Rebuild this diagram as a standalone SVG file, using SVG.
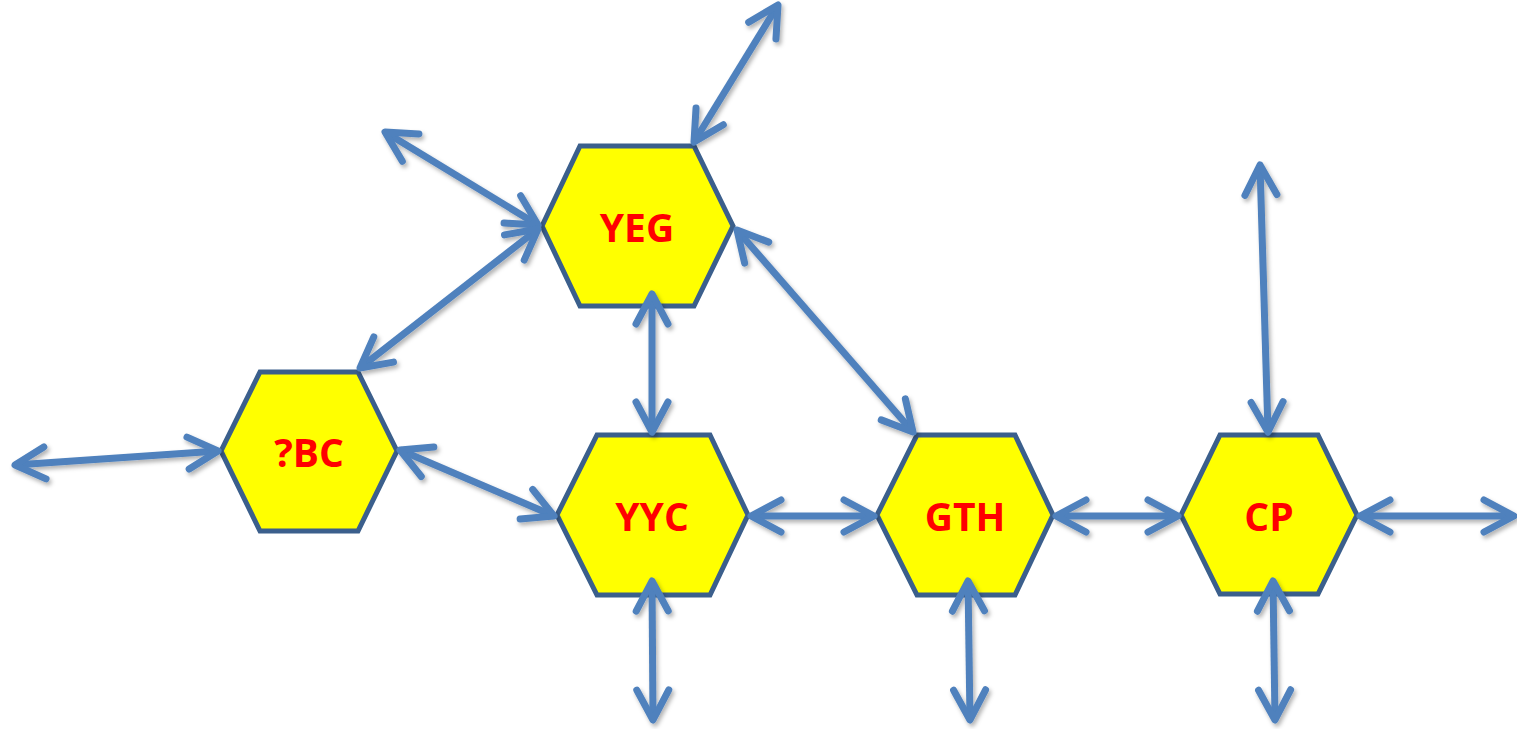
<svg xmlns="http://www.w3.org/2000/svg" width="1517" height="729" viewBox="0 0 1517 729">
  <style>
    .hex { fill: #ffff00; stroke: #3b5f8c; stroke-width: 5; stroke-linejoin: miter; }
    .lbl { font-family: "Open Sans", "Liberation Sans", sans-serif; font-weight: bold; font-size: 39px; fill: #ff0000; text-anchor: middle; }
    .conn line { stroke: #4f81bd; stroke-width: 7; fill: none; marker-start: url(#head); marker-end: url(#head); }
  </style>
  <defs>
    <marker id="head" markerUnits="userSpaceOnUse" markerWidth="60" markerHeight="60" viewBox="-40 -30 60 60" refX="0" refY="0" orient="auto-start-reverse" overflow="visible">
      <path d="M -30 -16 L 0 0 L -30 16" fill="none" stroke="#4f81bd" stroke-width="7" stroke-linecap="round" stroke-linejoin="round"/>
    </marker>
    <filter id="shadow" x="-10%" y="-10%" width="120%" height="120%">
      <feDropShadow dx="2" dy="3" stdDeviation="2" flood-color="#000" flood-opacity="0.3"/>
    </filter>
  </defs>

  <!-- nodes -->
  <g id="node-YEG">
    <polygon class="hex" points="580,146 694,146 733,226 694,306 580,306 542,226"/>
    <text class="lbl" x="637" y="242">YEG</text>
  </g>
  <g id="node-BC">
    <polygon class="hex" points="260,372 358,372 397,451 358,531 260,531 221,451"/>
    <text class="lbl" x="309" y="467">?BC</text>
  </g>
  <g id="node-YYC">
    <polygon class="hex" points="597,435 710,435 748,515 710,595 597,595 557,515"/>
    <text class="lbl" x="652" y="531">YYC</text>
  </g>
  <g id="node-GTH">
    <polygon class="hex" points="917,435 1015,435 1053,515 1015,595 917,595 877,515"/>
    <text class="lbl" x="965" y="531">GTH</text>
  </g>
  <g id="node-CP">
    <polygon class="hex" points="1220,435 1318,435 1357,515 1318,594 1220,594 1181,515"/>
    <text class="lbl" x="1269" y="531">CP</text>
  </g>

  <!-- connectors -->
  <g id="connectors" class="conn" filter="url(#shadow)">
    <line x1="694" y1="142" x2="778" y2="5"/>
    <line x1="538" y1="225" x2="385" y2="132"/>
    <line x1="538" y1="229" x2="360" y2="368"/>
    <line x1="652" y1="294" x2="652" y2="432"/>
    <line x1="737" y1="230" x2="913" y2="432"/>
    <line x1="218" y1="451" x2="15" y2="465"/>
    <line x1="400" y1="450" x2="554" y2="516"/>
    <line x1="751" y1="516" x2="874" y2="516"/>
    <line x1="1056" y1="516" x2="1178" y2="516"/>
    <line x1="1360" y1="516" x2="1514" y2="516"/>
    <line x1="1268" y1="432" x2="1260" y2="165"/>
    <line x1="652" y1="581" x2="653" y2="720"/>
    <line x1="968" y1="581" x2="970" y2="720"/>
    <line x1="1273" y1="581" x2="1275" y2="720"/>
  </g>
</svg>
